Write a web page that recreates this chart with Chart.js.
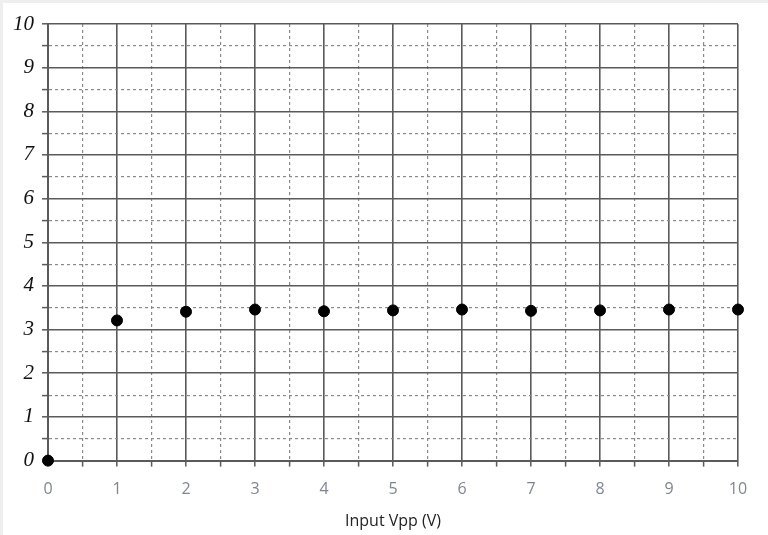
<!DOCTYPE html>
<html>
<head>
<meta charset="utf-8">
<script src="https://cdn.jsdelivr.net/npm/chart.js@4"></script>
<style>
  html, body { margin: 0; padding: 0; background: #fff; }
  #wrap {
    width: 768px; height: 535px; box-sizing: border-box;
    border-left: 3px solid #eeeeee; border-top: 3px solid #eeeeee;
  }
</style>
</head>
<body>
<div id="wrap"><canvas id="chart-vout"></canvas></div>
<script>
// Input Vpp (V) vs measured output
const inputVpp = [0, 1, 2, 3, 4, 5, 6, 7, 8, 9, 10];
const outputVpp = [0, 3.21, 3.41, 3.46, 3.42, 3.44, 3.46, 3.43, 3.44, 3.46, 3.46];

const xTickLabels = ["0", "1", "2", "3", "4", "5", "6", "7", "8", "9", "10"];
const yTickLabels = ["0", "1", "2", "3", "4", "5", "6", "7", "8", "9", "10"];

const points = inputVpp.map((x, i) => ({ x: x, y: outputVpp[i] }));

function isWhole(v) {
  return Math.abs(v - Math.round(v)) < 1e-6;
}

const gridColor = "#5a5a5a";

const config = {
  type: "scatter",
  data: {
    datasets: [
      {
        label: "Output",
        data: points,
        backgroundColor: "#000",
        borderColor: "#000",
        pointRadius: 5.5,
        pointHoverRadius: 5.5,
        showLine: false,
        clip: false,
      },
    ],
  },
  options: {
    responsive: false,
    animation: false,
    devicePixelRatio: 1,
    layout: { padding: { top: 21, right: 30, left: 0, bottom: 4 } },
    plugins: { legend: { display: false }, tooltip: { enabled: false } },
    scales: {
      x: {
        type: "linear",
        min: 0,
        max: 10,
        ticks: {
          stepSize: 0.5,
          autoSkip: false,
          maxRotation: 0,
          color: "#7f8590",
          font: { family: "Open Sans", size: 16 },
          padding: 13,
          callback: function (value) {
            return isWhole(value) ? xTickLabels[Math.round(value)] : "";
          },
        },
        grid: {
          color: (ctx) => (ctx.tick && isWhole(ctx.tick.value) ? gridColor : "#8a8a8a"),
          lineWidth: (ctx) => (ctx.tick && isWhole(ctx.tick.value) ? 1.6 : 1.2),
          tickLength: 6,
          tickColor: gridColor,
          tickWidth: 1.5,
        },
        border: {
          color: gridColor,
          width: 2,
          dash: (ctx) => (ctx.tick && !isWhole(ctx.tick.value) ? [3, 3] : []),
        },
        title: {
          display: true,
          text: "Input Vpp (V)",
          color: "#222",
          font: { family: "Open Sans", size: 16 },
          padding: { top: 0, bottom: 0 },
        },
      },
      y: {
        type: "linear",
        min: 0,
        max: 10,
        afterFit: function (scale) {
          scale.width = 45;
        },
        ticks: {
          stepSize: 0.5,
          autoSkip: false,
          color: "#111",
          font: { family: "Liberation Serif", size: 21, style: "italic" },
          padding: 8,
          callback: function (value) {
            return isWhole(value) ? yTickLabels[Math.round(value)] : "";
          },
        },
        grid: {
          color: (ctx) => (ctx.tick && isWhole(ctx.tick.value) ? gridColor : "#8a8a8a"),
          lineWidth: (ctx) => (ctx.tick && isWhole(ctx.tick.value) ? 1.6 : 1.2),
          tickLength: 6,
          tickColor: gridColor,
          tickWidth: 1.5,
        },
        border: {
          color: gridColor,
          width: 2,
          dash: (ctx) => (ctx.tick && !isWhole(ctx.tick.value) ? [3, 3] : []),
        },
      },
    },
  },
};

const canvas = document.getElementById("chart-vout");
canvas.width = 765;
canvas.height = 532;
new Chart(canvas, config);
</script>
</body>
</html>
